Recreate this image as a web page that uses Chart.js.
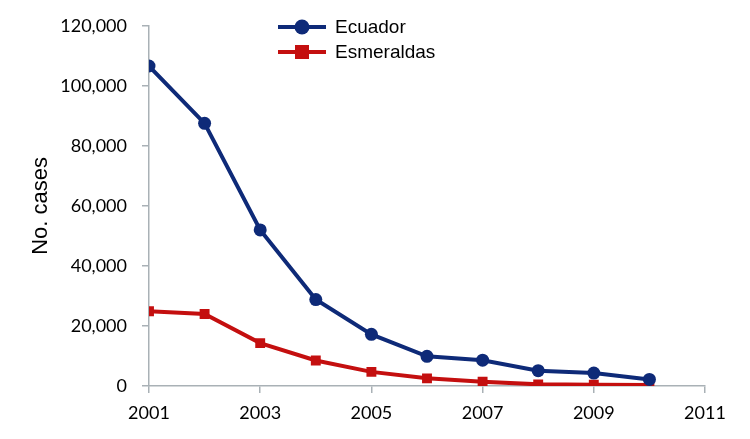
<!DOCTYPE html>
<html>
<head>
<meta charset="utf-8">
<script src="https://cdn.jsdelivr.net/npm/chart.js@4/dist/chart.umd.min.js"></script>
<style>
  html, body { margin: 0; padding: 0; background: #fff; }
  #wrap { width: 750px; height: 439px; }
</style>
</head>
<body>
<div id="wrap"><canvas id="chart" width="750" height="439"></canvas></div>
<script>
// values
var years = [2001, 2002, 2003, 2004, 2005, 2006, 2007, 2008, 2009, 2010];
var ecuador = [106600, 87500, 52000, 28800, 17200, 9900, 8600, 5100, 4300, 2200];
var esmeraldas = [24900, 24000, 14300, 8500, 4700, 2550, 1400, 550, 450, 300];
var yTicks = [0, 20000, 40000, 60000, 80000, 100000, 120000];
var xTicks = [2001, 2003, 2005, 2007, 2009, 2011];

var navy = "#0e2a78";
var red = "#c40f0f";
var axisGrey = "#a9b1b6";

function toPoints(vals) {
    return years.map(function (y, i) { return { x: y, y: vals[i] }; });
}

// legend drawn as line + marker, like the original spreadsheet chart
var legendPlugin = {
    id: "lineLegend",
    afterDraw: function (chart) {
        var ctx = chart.ctx;
        var x0 = 278, x1 = 326, ty = 27;
        ctx.save();
        chart.data.datasets.forEach(function (ds, i) {
            var y = ty + i * 25;
            ctx.strokeStyle = ds.borderColor;
            ctx.lineWidth = 4;
            ctx.beginPath();
            ctx.moveTo(x0, y);
            ctx.lineTo(x1, y);
            ctx.stroke();
            ctx.fillStyle = ds.backgroundColor;
            var cx = (x0 + x1) / 2;
            if (ds.pointStyle === "rect") {
                ctx.fillRect(cx - 7, y - 7, 14, 14);
            } else {
                ctx.beginPath();
                ctx.arc(cx, y, 7.5, 0, Math.PI * 2);
                ctx.fill();
            }
            ctx.fillStyle = "#000";
            ctx.font = "19px 'Liberation Sans', Arial, sans-serif";
            ctx.textBaseline = "middle";
            ctx.fillText(ds.label, 335, y + 1);
        });
        ctx.restore();
    }
};

new Chart(document.getElementById("chart"), {
    type: "line",
    data: {
        datasets: [
            {
                label: "Ecuador",
                data: toPoints(ecuador),
                borderColor: navy,
                backgroundColor: navy,
                borderWidth: 4,
                pointStyle: "circle",
                pointRadius: 6.5,
                pointBorderWidth: 0,
                tension: 0
            },
            {
                label: "Esmeraldas",
                data: toPoints(esmeraldas),
                borderColor: red,
                backgroundColor: red,
                borderWidth: 4,
                pointStyle: "rect",
                pointRadius: 7,
                pointBorderWidth: 0,
                tension: 0
            }
        ]
    },
    options: {
        responsive: false,
        animation: false,
        layout: { padding: { top: 22, right: 45, bottom: 0, left: 0 } },
        plugins: {
            legend: { display: false },
            tooltip: { enabled: false }
        },
        scales: {
            x: {
                type: "linear",
                min: 2001,
                max: 2011,
                afterFit: function (scale) { scale.height = 53; },
                afterBuildTicks: function (scale) {
                    scale.ticks = xTicks.map(function (v) { return { value: v }; });
                },
                border: { color: axisGrey, width: 1.5 },
                grid: { drawOnChartArea: false, drawTicks: true, tickLength: 7, color: axisGrey, lineWidth: 1.5 },
                ticks: {
                    color: "#000",
                    padding: 9,
                    maxRotation: 0,
                    font: { family: "Lato, sans-serif", size: 18 },
                    callback: function (v) { return String(v); }
                }
            },
            y: {
                min: 0,
                max: 120000,
                afterFit: function (scale) { scale.width = 149; },
                afterBuildTicks: function (scale) {
                    scale.ticks = yTicks.map(function (v) { return { value: v }; });
                },
                border: { color: axisGrey, width: 1.5 },
                grid: { drawOnChartArea: false, drawTicks: true, tickLength: 7, color: axisGrey, lineWidth: 1.5 },
                ticks: {
                    color: "#000",
                    padding: 15,
                    font: { family: "Lato, sans-serif", size: 18 },
                    callback: function (v) { return v.toLocaleString("en-US"); }
                },
                title: {
                    display: true,
                    text: "No. cases",
                    color: "#000",
                    font: { family: "'Liberation Sans', Arial, sans-serif", size: 22 },
                    padding: { top: 28, bottom: 0 }
                }
            }
        }
    },
    plugins: [legendPlugin]
});
</script>
</body>
</html>
